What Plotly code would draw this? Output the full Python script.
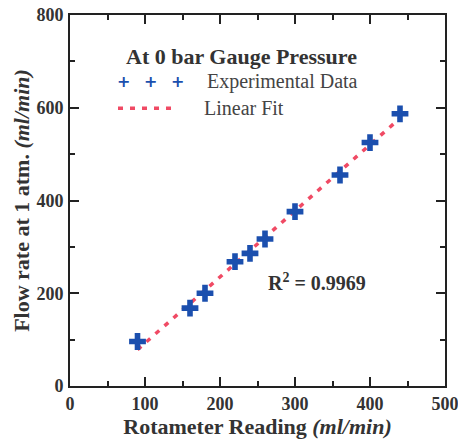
import numpy as np
import plotly.graph_objects as go

# Data
rotameter = [90, 160, 180, 220, 240, 260, 300, 360, 400, 440]
flow_rate = [96, 168, 200, 268, 286, 317, 376, 455, 525, 587]
x_ticks = [0, 100, 200, 300, 400, 500]
y_ticks = [0, 200, 400, 600, 800]
legend_title = "At 0 bar Gauge Pressure"
legend_names = ["Experimental Data", "Linear Fit"]
r2_text = "R<sup>2</sup> = 0.9969"

BLUE = "#1b4fae"
RED = "#f04a64"
FONT = "Liberation Serif"
TXT = "#333"

slope, intercept = np.polyfit(rotameter, flow_rate, 1)
fit_x = np.array([min(rotameter), max(rotameter)])
fit_y = slope * fit_x + intercept

fig = go.Figure()
fig.add_trace(go.Scatter(x=fit_x, y=fit_y, mode="lines",
                         line=dict(color=RED, width=3.5, dash="5px,7px"),
                         showlegend=False, hoverinfo="skip"))
fig.add_trace(go.Scatter(x=rotameter, y=flow_rate, mode="markers",
                         marker=dict(symbol="cross", size=14, color=BLUE,
                                     line=dict(width=0)),
                         showlegend=False))

axis_common = dict(
    showline=True, linecolor="#222", linewidth=2, mirror="allticks",
    ticks="inside", ticklen=9, tickwidth=2, tickcolor="#222",
    showgrid=False, zeroline=False, automargin=False,
    ticklabeloverflow="allow",
    tickfont=dict(family=FONT, size=18, color=TXT, weight="bold"),
)
fig.update_xaxes(range=[0, 500], tickvals=x_ticks,
                 minor=dict(ticks="inside", dtick=50, ticklen=5, tickwidth=2, tickcolor="#222"),
                 title=dict(text="<b>Rotameter Reading <i>(ml/min)</i></b>",
                            font=dict(family=FONT, size=22, color=TXT), standoff=2),
                 ticklabelstandoff=0,
                 **axis_common)
fig.update_yaxes(range=[0, 800], tickvals=y_ticks,
                 minor=dict(ticks="inside", dtick=100, ticklen=5, tickwidth=2, tickcolor="#222"),
                 title=dict(text="<b>Flow rate at 1 atm. <i>(ml/min)</i></b>",
                            font=dict(family=FONT, size=22, color=TXT), standoff=1),
                 ticklabelstandoff=1,
                 **axis_common)

# Manual legend (Origin-style legend with three symbols)
def px2paper_x(px):
    return (px - 70) / 375

def px2paper_y(py):
    return (386 - py) / 371

def note(x, y, text, font, xanchor="center"):
    fig.add_annotation(xref="paper", yref="paper", x=x, y=y, showarrow=False,
                       xanchor=xanchor, yanchor="middle", text=text, font=font)

note(px2paper_x(241.5), px2paper_y(56.7), f"<b>{legend_title}</b>",
     dict(family=FONT, size=22, color=TXT))
for sx in (123, 150, 177):
    note(px2paper_x(sx), px2paper_y(81.7), "<b>+</b>",
         dict(family="DejaVu Sans", size=16, color=BLUE))
note(px2paper_x(205), px2paper_y(81.7), legend_names[0],
     dict(family=FONT, size=20, color="#444"), xanchor="left")
fig.add_shape(type="line", xref="paper", yref="paper",
              x0=px2paper_x(118), x1=px2paper_x(176),
              y0=px2paper_y(108.3), y1=px2paper_y(108.3),
              line=dict(color=RED, width=3.5, dash="5px,7px"))
note(px2paper_x(202), px2paper_y(108.3), legend_names[1],
     dict(family=FONT, size=20, color="#444"), xanchor="left")
fig.add_annotation(x=329, y=225, showarrow=False, xanchor="center", yanchor="middle",
                   text=f"<b>{r2_text}</b>",
                   font=dict(family=FONT, size=20, color=TXT))

fig.update_layout(width=458, height=445, margin=dict(l=70, r=13, t=15, b=59),
                  plot_bgcolor="white", paper_bgcolor="white", showlegend=False)
fig.write_html("out.html")
